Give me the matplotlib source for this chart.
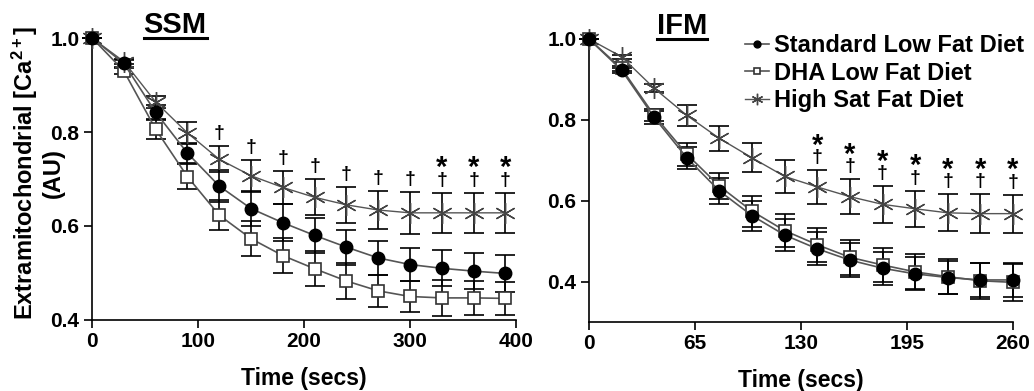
import numpy as np
import matplotlib
matplotlib.use("Agg")
from matplotlib import pyplot as plt
from matplotlib.lines import Line2D

plt.rcParams['font.family'] = ['Liberation Sans', 'DejaVu Sans']
plt.rcParams['font.weight'] = 'bold'
plt.rcParams['mathtext.fontset'] = 'custom'
plt.rcParams['mathtext.rm'] = 'Liberation Sans:bold'
plt.rcParams['mathtext.it'] = 'Liberation Sans:bold'
plt.rcParams['mathtext.bf'] = 'Liberation Sans:bold'

# SSM panel (time 0..390 s, every 30 s)
ssm_t = [0, 30, 60, 90, 120, 150, 180, 210, 240, 270, 300, 330, 360, 390]
ssm_std = [1.0, 0.946, 0.842, 0.755, 0.685, 0.637, 0.607, 0.580, 0.555, 0.532, 0.518, 0.510, 0.504, 0.499]
ssm_std_err = [0.0, 0.008, 0.015, 0.022, 0.034, 0.037, 0.039, 0.038, 0.037, 0.037, 0.036, 0.038, 0.038, 0.040]
ssm_dha = [1.0, 0.930, 0.806, 0.705, 0.623, 0.573, 0.537, 0.509, 0.483, 0.462, 0.450, 0.447, 0.447, 0.446]
ssm_dha_err = [0.0, 0.006, 0.020, 0.026, 0.032, 0.037, 0.037, 0.037, 0.038, 0.034, 0.032, 0.038, 0.037, 0.035]
ssm_hsf = [1.0, 0.950, 0.864, 0.798, 0.742, 0.707, 0.682, 0.661, 0.645, 0.634, 0.628, 0.628, 0.628, 0.628]
ssm_hsf_err = [0.0, 0.006, 0.012, 0.023, 0.028, 0.034, 0.036, 0.038, 0.039, 0.041, 0.044, 0.043, 0.043, 0.043]
ssm_dagger = [120, 150, 180, 210, 240, 270, 300, 330, 360, 390]
ssm_star = [330, 360, 390]

# IFM panel (time 0..260 s, every 20 s)
ifm_t = [0, 20, 40, 60, 80, 100, 120, 140, 160, 180, 200, 220, 240, 260]
ifm_std = [1.0, 0.923, 0.806, 0.706, 0.624, 0.563, 0.515, 0.481, 0.453, 0.433, 0.419, 0.410, 0.404, 0.404]
ifm_std_err = [0.0, 0.006, 0.017, 0.027, 0.031, 0.037, 0.039, 0.041, 0.042, 0.041, 0.041, 0.041, 0.042, 0.043]
ifm_dha = [1.0, 0.927, 0.811, 0.715, 0.636, 0.574, 0.526, 0.491, 0.460, 0.441, 0.424, 0.412, 0.402, 0.398]
ifm_dha_err = [0.0, 0.006, 0.015, 0.028, 0.033, 0.038, 0.040, 0.042, 0.044, 0.043, 0.043, 0.043, 0.044, 0.045]
ifm_hsf = [1.0, 0.956, 0.878, 0.811, 0.754, 0.706, 0.660, 0.634, 0.610, 0.591, 0.580, 0.570, 0.568, 0.568]
ifm_hsf_err = [0.0, 0.005, 0.010, 0.025, 0.031, 0.036, 0.041, 0.041, 0.043, 0.045, 0.045, 0.046, 0.048, 0.047]
ifm_dagger = [140, 160, 180, 200, 220, 240, 260]
ifm_star = [140, 160, 180, 200, 220, 240, 260]

labels = ['Standard Low Fat Diet', 'DHA Low Fat Diet', 'High Sat Fat Diet']
asterisk = (6, 2, 0)
line_col = '#555555'


def panel(ax, t, std, std_e, dha, dha_e, hsf, hsf_e, daggers, stars, xt, yl):
    for y, e in [(hsf, hsf_e), (std, std_e), (dha, dha_e)]:
        ax.errorbar(t, y, yerr=e, fmt='none', ecolor='black', elinewidth=1.2,
                    capsize=7, capthick=1.2, zorder=2, clip_on=False)
    h1, = ax.plot(t, std, color=line_col, lw=1.2, marker='o', ms=9,
                  mfc='black', mec='black', zorder=4, clip_on=False)
    h2, = ax.plot(t, dha, color=line_col, lw=1.2, marker='s', ms=9,
                  mfc='white', mec='#333333', mew=1.2, zorder=3, clip_on=False)
    h3, = ax.plot(t, hsf, color=line_col, lw=1.0, marker=asterisk, ms=15,
                  mec='#444444', mew=1.0, zorder=3, clip_on=False)
    tops = dict((x, y + e) for x, y, e in zip(t, hsf, hsf_e))
    for x in daggers:
        ax.annotate('\u2020', (x, tops[x]), xytext=(0, 9), textcoords='offset points',
                    ha='center', va='center', fontsize=14, fontweight='bold')
    for x in stars:
        ax.annotate('*', (x, tops[x]), xytext=(0, 17.5), textcoords='offset points',
                    ha='center', va='center', fontsize=21, fontweight='bold')
    ax.set_xlim(xt[0], xt[-1])
    ax.set_ylim(*yl)
    ax.set_xticks(xt)
    ax.set_yticks([0.4, 0.6, 0.8, 1.0])
    ax.yaxis.set_major_formatter(matplotlib.ticker.FormatStrFormatter('%.1f'))
    for s in ['top', 'right']:
        ax.spines[s].set_visible(False)
    for s in ['left', 'bottom']:
        ax.spines[s].set_linewidth(1.2)
    ax.tick_params(direction='out', length=6, width=1.2, labelsize=15, pad=3)
    ax.set_xlabel('Time (secs)', fontsize=16.5, fontweight='bold', labelpad=11)
    return [h1, h2, h3]


fig = plt.figure(figsize=(10.34, 3.91), dpi=100)
ax1 = fig.add_axes([0.0890, 0.1816, 0.4101, 0.7212])
ax2 = fig.add_axes([0.5696, 0.1765, 0.4101, 0.7238])

panel(ax1, ssm_t, ssm_std, ssm_std_err, ssm_dha, ssm_dha_err, ssm_hsf, ssm_hsf_err,
      ssm_dagger, ssm_star, [0, 100, 200, 300, 400], (0.4, 1.0))
hs = panel(ax2, ifm_t, ifm_std, ifm_std_err, ifm_dha, ifm_dha_err, ifm_hsf, ifm_hsf_err,
           ifm_dagger, ifm_star, [0, 65, 130, 195, 260], (0.3, 1.0))

ax1.set_ylabel('Extramitochondrial [Ca$^{2+}$]\n(AU)', fontsize=17, fontweight='bold',
               linespacing=1.1)
ax1.yaxis.set_label_coords(-0.064, 0.52)

leg = ax2.legend(hs, labels, loc='upper left', bbox_to_anchor=(0.34, 1.06), frameon=False,
                 fontsize=17, handlelength=1.0, handletextpad=0.25, labelspacing=0.2,
                 borderpad=0, markerscale=0.55)
for t in leg.get_texts():
    t.set_fontweight('bold')

# underlined panel titles
titles = []
for ax, name, xc in [(ax1, 'SSM', 0.196), (ax2, 'IFM', 0.219)]:
    titles.append(ax.text(xc, 1.045, name, transform=ax.transAxes, ha='center', va='center',
                          fontsize=21, fontweight='bold'))
fig.canvas.draw()
r = fig.canvas.get_renderer()
for tx in titles:
    bb = tx.get_window_extent(r)
    y = bb.y0 + 1
    fig.add_artist(Line2D([bb.x0 / fig.bbox.width, bb.x1 / fig.bbox.width],
                          [y / fig.bbox.height, y / fig.bbox.height],
                          color='black', lw=2.2, transform=fig.transFigure))

plt.savefig('out.png', dpi=100)
plt.close()
